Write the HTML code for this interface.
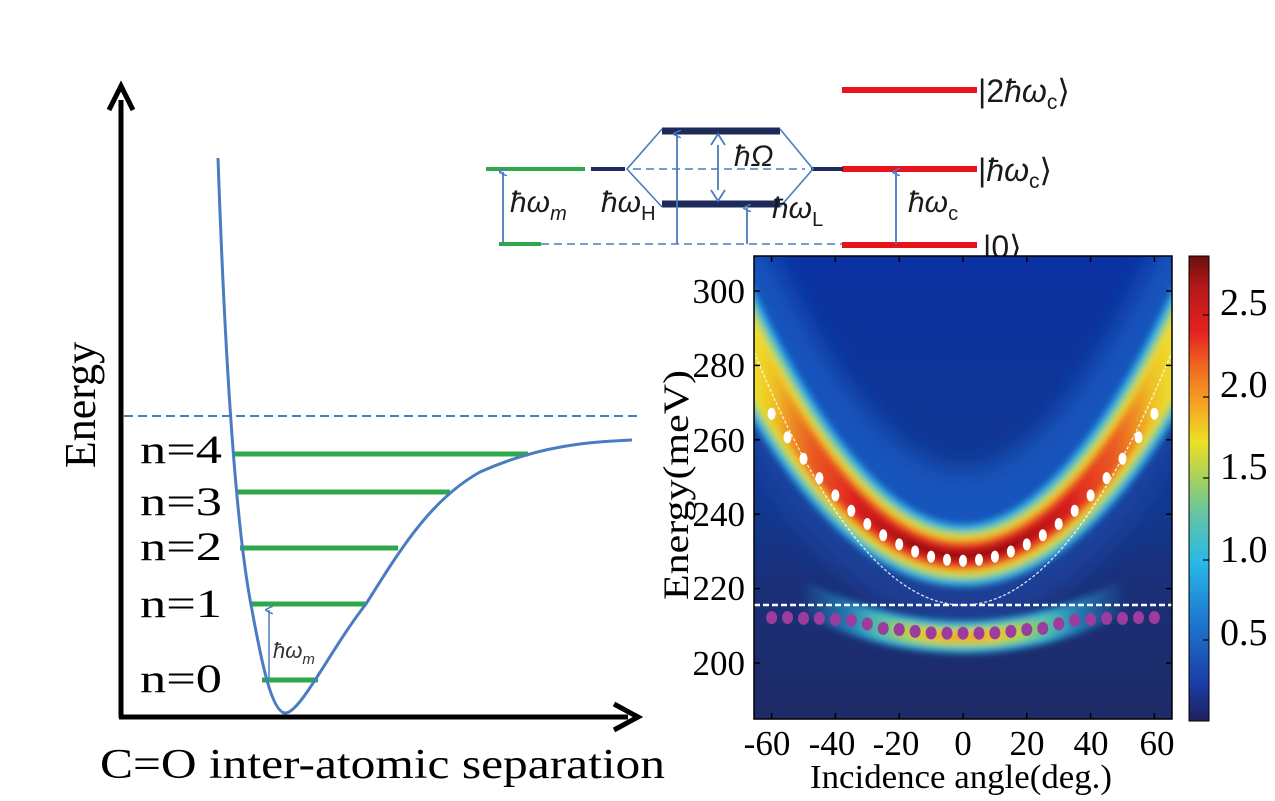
<!DOCTYPE html>
<html><head><meta charset="utf-8"><style>
html,body{margin:0;padding:0;background:#fff;}
svg{display:block;}
</style></head><body>
<svg width="1275" height="801" viewBox="0 0 1275 801" xmlns="http://www.w3.org/2000/svg">
<defs>
<marker id="ah" markerWidth="8" markerHeight="8" refX="4" refY="4" orient="auto" markerUnits="userSpaceOnUse"><path d="M0,8 L4,0 L8,8" fill="none" stroke="#4a7cc0" stroke-width="1.5"/></marker>
<clipPath id="pc"><rect x="754" y="256" width="418" height="463"/></clipPath>
<filter id="bl" x="-20%" y="-20%" width="140%" height="140%"><feGaussianBlur stdDeviation="3.5"/></filter>
<filter id="bl2" x="-20%" y="-20%" width="140%" height="140%"><feGaussianBlur stdDeviation="12"/></filter>
<linearGradient id="bg" x1="0" y1="256" x2="0" y2="719" gradientUnits="userSpaceOnUse">
<stop offset="0" stop-color="#0a32a2"/><stop offset="0.55" stop-color="#12388f"/><stop offset="0.72" stop-color="#1b2f78"/><stop offset="1" stop-color="#1d2b66"/></linearGradient>
<linearGradient id="fadeR" x1="754" y1="0" x2="1172" y2="0" gradientUnits="userSpaceOnUse">
<stop offset="0.05" stop-color="#e02020" stop-opacity="0"/><stop offset="0.25" stop-color="#e02020" stop-opacity="1"/><stop offset="0.75" stop-color="#e02020" stop-opacity="1"/><stop offset="0.95" stop-color="#e02020" stop-opacity="0"/></linearGradient>
<linearGradient id="fadeO" x1="754" y1="0" x2="1172" y2="0" gradientUnits="userSpaceOnUse">
<stop offset="0" stop-color="#f08a20" stop-opacity="0"/><stop offset="0.14" stop-color="#f08a20" stop-opacity="1"/><stop offset="0.86" stop-color="#f08a20" stop-opacity="1"/><stop offset="1" stop-color="#f08a20" stop-opacity="0"/></linearGradient>
<linearGradient id="fadeD" x1="754" y1="0" x2="1172" y2="0" gradientUnits="userSpaceOnUse">
<stop offset="0.22" stop-color="#9a1010" stop-opacity="0"/><stop offset="0.38" stop-color="#9a1010" stop-opacity="1"/><stop offset="0.62" stop-color="#9a1010" stop-opacity="1"/><stop offset="0.78" stop-color="#9a1010" stop-opacity="0"/></linearGradient>
<linearGradient id="lowC" x1="800" y1="0" x2="1126" y2="0" gradientUnits="userSpaceOnUse">
<stop offset="0" stop-color="#26b0e0" stop-opacity="0"/><stop offset="0.25" stop-color="#26b0e0" stop-opacity="1"/><stop offset="0.75" stop-color="#26b0e0" stop-opacity="1"/><stop offset="1" stop-color="#26b0e0" stop-opacity="0"/></linearGradient>
<linearGradient id="lowG" x1="800" y1="0" x2="1126" y2="0" gradientUnits="userSpaceOnUse">
<stop offset="0.15" stop-color="#80d070" stop-opacity="0"/><stop offset="0.33" stop-color="#80d070" stop-opacity="1"/><stop offset="0.67" stop-color="#80d070" stop-opacity="1"/><stop offset="0.85" stop-color="#80d070" stop-opacity="0"/></linearGradient>
<linearGradient id="lowY" x1="800" y1="0" x2="1126" y2="0" gradientUnits="userSpaceOnUse">
<stop offset="0.25" stop-color="#f0d020" stop-opacity="0"/><stop offset="0.4" stop-color="#f0d020" stop-opacity="1"/><stop offset="0.6" stop-color="#f0d020" stop-opacity="1"/><stop offset="0.75" stop-color="#f0d020" stop-opacity="0"/></linearGradient>
<linearGradient id="lowO" x1="800" y1="0" x2="1126" y2="0" gradientUnits="userSpaceOnUse">
<stop offset="0.35" stop-color="#f09a20" stop-opacity="0"/><stop offset="0.45" stop-color="#f09a20" stop-opacity="1"/><stop offset="0.55" stop-color="#f09a20" stop-opacity="1"/><stop offset="0.65" stop-color="#f09a20" stop-opacity="0"/></linearGradient>
<linearGradient id="cb" x1="0" y1="721" x2="0" y2="256" gradientUnits="userSpaceOnUse">
<stop offset="0" stop-color="#1e1f5c"/><stop offset="0.08" stop-color="#1a3da8"/><stop offset="0.22" stop-color="#1e7ad2"/><stop offset="0.34" stop-color="#28b8e6"/><stop offset="0.44" stop-color="#60c4a8"/><stop offset="0.52" stop-color="#a4d060"/><stop offset="0.6" stop-color="#ece024"/><stop offset="0.68" stop-color="#f4a622"/><stop offset="0.76" stop-color="#f06a20"/><stop offset="0.84" stop-color="#e42020"/><stop offset="0.93" stop-color="#b81818"/><stop offset="1" stop-color="#6a1010"/></linearGradient>
</defs>

<!-- LEFT PANEL -->
<line x1="121" y1="718" x2="121" y2="100" stroke="#000" stroke-width="5"/>
<path d="M109,110 L121,86 L133,110" fill="none" stroke="#000" stroke-width="5"/>
<line x1="119" y1="717" x2="628" y2="717" stroke="#000" stroke-width="5"/>
<path d="M614,704 L638,717 L614,730" fill="none" stroke="#000" stroke-width="5"/>
<line x1="124" y1="416" x2="640" y2="416" stroke="#4a7cc0" stroke-width="2" stroke-dasharray="9 5"/>
<g stroke="#2ea84a" stroke-width="5">
<line x1="262" y1="680" x2="318" y2="680"/>
<line x1="250" y1="604" x2="366" y2="604"/>
<line x1="240" y1="548" x2="398" y2="548"/>
<line x1="236" y1="492" x2="450" y2="492"/>
<line x1="234" y1="454" x2="528" y2="454"/>
</g>
<path d="M218,158 C224,330 234,520 252,610 C262,665 272,712 285,713 C300,714 330,650 366,604 C400,550 430,500 480,472 C540,445 590,442 632,440" fill="none" stroke="#4a7cc0" stroke-width="3"/>
<line x1="269" y1="678" x2="269" y2="610" stroke="#4a7cc0" stroke-width="1.5" marker-end="url(#ah)"/>
<text x="273" y="658" font-family="Liberation Sans, sans-serif" font-size="22" font-style="italic" fill="#333">ħω<tspan font-size="15" dy="6">m</tspan></text>
<g font-family="Liberation Serif, serif" font-size="40" fill="#000">
<text x="140" y="463" textLength="82" lengthAdjust="spacingAndGlyphs">n=4</text>
<text x="140" y="515" textLength="82" lengthAdjust="spacingAndGlyphs">n=3</text>
<text x="140" y="560" textLength="82" lengthAdjust="spacingAndGlyphs">n=2</text>
<text x="140" y="617" textLength="82" lengthAdjust="spacingAndGlyphs">n=1</text>
<text x="140" y="692" textLength="82" lengthAdjust="spacingAndGlyphs">n=0</text>
<text x="95" y="405" font-size="44" transform="rotate(-90 95 405)" text-anchor="middle">Energy</text>
<text x="100" y="778" font-size="42" textLength="565" lengthAdjust="spacingAndGlyphs">C=O inter-atomic separation</text>
</g>

<!-- TOP DIAGRAM -->
<g stroke="#e8141c" stroke-width="6">
<line x1="842" y1="90" x2="977" y2="90"/>
<line x1="842" y1="169" x2="977" y2="169"/>
<line x1="842" y1="245" x2="977" y2="245"/>
</g>
<g stroke="#2ea84a" stroke-width="4">
<line x1="486" y1="169" x2="585" y2="169"/>
<line x1="499" y1="244" x2="541" y2="244"/>
</g>
<g stroke="#1c2b5a" stroke-width="4">
<line x1="591" y1="169" x2="625" y2="169"/>
<line x1="811" y1="169" x2="843" y2="169"/>
</g>
<g stroke="#1c2b5a" stroke-width="7">
<line x1="662" y1="131" x2="780" y2="131"/>
<line x1="662" y1="204" x2="780" y2="204"/>
</g>
<g stroke="#4a7cc0" stroke-width="1.6" fill="none">
<line x1="633" y1="169" x2="805" y2="169" stroke-dasharray="8 5"/>
<line x1="541" y1="244" x2="842" y2="244" stroke-dasharray="8 5"/>
<polyline points="662,129 627,169 662,207"/>
<polyline points="780,129 813,169 780,207"/>
</g>
<g stroke="#4a7cc0" stroke-width="1.8">
<line x1="503" y1="244" x2="503" y2="172" marker-end="url(#ah)"/>
<line x1="677" y1="244" x2="677" y2="134" marker-end="url(#ah)"/>
<line x1="747" y1="244" x2="747" y2="208" marker-end="url(#ah)"/>
<line x1="896" y1="244" x2="896" y2="172" marker-end="url(#ah)"/>
<line x1="718" y1="145" x2="718" y2="190"/>
<path d="M711,145 L718,134 L725,145 M711,190 L718,201 L725,190" fill="none"/>
</g>
<g font-family="Liberation Sans, sans-serif" font-size="30" fill="#1a1a1a" font-style="italic">
<text x="510" y="212">ħω<tspan font-size="20" dy="8">m</tspan></text>
<text x="601" y="212">ħω<tspan font-size="20" dy="8" font-style="normal">H</tspan></text>
<text x="734" y="166">ħΩ</text>
<text x="772" y="218">ħω<tspan font-size="20" dy="8" font-style="normal">L</tspan></text>
<text x="908" y="212">ħω<tspan font-size="20" dy="8" font-style="normal">c</tspan></text>
</g>
<g font-family="Liberation Sans, sans-serif" font-size="32" fill="#1a1a1a">
<text x="978" y="102">|2<tspan font-style="italic">ħω</tspan><tspan font-size="21" dy="7">c</tspan><tspan dy="-7">⟩</tspan></text>
<text x="978" y="181">|<tspan font-style="italic">ħω</tspan><tspan font-size="21" dy="7">c</tspan><tspan dy="-7">⟩</tspan></text>
<text x="983" y="258">|0⟩</text>
</g>

<!-- HEATMAP -->
<g clip-path="url(#pc)">
<rect x="740" y="240" width="450" height="500" fill="url(#bg)"/>
<g filter="url(#bl2)" fill="none">
<path d="M723.5,258 Q963,771 1202.5,258" stroke="#1656c0" stroke-width="90" opacity="0.9"/>
<path d="M723.5,340 Q963,853 1202.5,340" stroke="#1a48a8" stroke-width="60" opacity="0.6"/>
</g>
<g filter="url(#bl)" fill="none">
<path d="M723.5,299 Q963,812 1202.5,299" stroke="#2aaee6" stroke-width="62"/>
<path d="M723.5,299 Q963,812 1202.5,299" stroke="#86d070" stroke-width="50"/>
<path d="M723.5,299 Q963,812 1202.5,299" stroke="#eede2a" stroke-width="40"/>
<path d="M723.5,299 Q963,812 1202.5,299" stroke="url(#fadeO)" stroke-width="32"/>
<path d="M723.5,299 Q963,812 1202.5,299" stroke="url(#fadeR)" stroke-width="24"/>
<path d="M723.5,299 Q963,812 1202.5,299" stroke="url(#fadeD)" stroke-width="10"/>
<path d="M800,596 Q963,678 1126,596" stroke="url(#lowC)" stroke-width="32"/>
<path d="M800,596 Q963,678 1126,596" stroke="url(#lowG)" stroke-width="22"/>
<path d="M800,596 Q963,678 1126,596" stroke="url(#lowY)" stroke-width="13"/>
<path d="M800,596 Q963,678 1126,596" stroke="url(#lowO)" stroke-width="6"/>
</g>
<path d="M754,352 Q963,858 1172,352" fill="none" stroke="#fff" stroke-width="1.3" stroke-dasharray="3 2" opacity="0.85"/>
<line x1="754" y1="605" x2="1172" y2="605" stroke="#fff" stroke-width="2.5" stroke-dasharray="6 3"/>
<g fill="#fff">
<ellipse cx="963" cy="560.7" rx="4" ry="6"/>
<ellipse cx="979" cy="559.7" rx="4" ry="6"/><ellipse cx="947" cy="559.7" rx="4" ry="6"/>
<ellipse cx="994.9" cy="556.6" rx="4" ry="6"/><ellipse cx="931.1" cy="556.6" rx="4" ry="6"/>
<ellipse cx="1010.9" cy="551.5" rx="4" ry="6"/><ellipse cx="915.1" cy="551.5" rx="4" ry="6"/>
<ellipse cx="1026.8" cy="544.4" rx="4" ry="6"/><ellipse cx="899.2" cy="544.4" rx="4" ry="6"/>
<ellipse cx="1042.8" cy="535.2" rx="4" ry="6"/><ellipse cx="883.2" cy="535.2" rx="4" ry="6"/>
<ellipse cx="1058.7" cy="524" rx="4" ry="6"/><ellipse cx="867.3" cy="524" rx="4" ry="6"/>
<ellipse cx="1074.7" cy="510.7" rx="4" ry="6"/><ellipse cx="851.3" cy="510.7" rx="4" ry="6"/>
<ellipse cx="1090.6" cy="495.4" rx="4" ry="6"/><ellipse cx="835.4" cy="495.4" rx="4" ry="6"/>
<ellipse cx="1106.6" cy="478.1" rx="4" ry="6"/><ellipse cx="819.4" cy="478.1" rx="4" ry="6"/>
<ellipse cx="1122.5" cy="458.7" rx="4" ry="6"/><ellipse cx="803.5" cy="458.7" rx="4" ry="6"/>
<ellipse cx="1138.5" cy="437.3" rx="4" ry="6"/><ellipse cx="787.5" cy="437.3" rx="4" ry="6"/>
<ellipse cx="1154.4" cy="413.8" rx="4" ry="6"/><ellipse cx="771.6" cy="413.8" rx="4" ry="6"/>
</g>
<g fill="#9b3c9e">
<ellipse cx="963" cy="633.2" rx="5.5" ry="6.5"/>
<ellipse cx="979" cy="633.2" rx="5.5" ry="6.5"/><ellipse cx="947" cy="633.2" rx="5.5" ry="6.5"/>
<ellipse cx="994.9" cy="632.9" rx="5.5" ry="6.5"/><ellipse cx="931.1" cy="632.9" rx="5.5" ry="6.5"/>
<ellipse cx="1010.9" cy="631.4" rx="5.5" ry="6.5"/><ellipse cx="915.1" cy="631.4" rx="5.5" ry="6.5"/>
<ellipse cx="1026.8" cy="629.5" rx="5.5" ry="6.5"/><ellipse cx="899.2" cy="629.5" rx="5.5" ry="6.5"/>
<ellipse cx="1042.8" cy="628.4" rx="5.5" ry="6.5"/><ellipse cx="883.2" cy="628.4" rx="5.5" ry="6.5"/>
<ellipse cx="1058.7" cy="623.9" rx="5.5" ry="6.5"/><ellipse cx="867.3" cy="623.9" rx="5.5" ry="6.5"/>
<ellipse cx="1074.7" cy="620.2" rx="5.5" ry="6.5"/><ellipse cx="851.3" cy="620.2" rx="5.5" ry="6.5"/>
<ellipse cx="1090.6" cy="619.5" rx="5.5" ry="6.5"/><ellipse cx="835.4" cy="619.5" rx="5.5" ry="6.5"/>
<ellipse cx="1106.6" cy="618.4" rx="5.5" ry="6.5"/><ellipse cx="819.4" cy="618.4" rx="5.5" ry="6.5"/>
<ellipse cx="1122.5" cy="618.4" rx="5.5" ry="6.5"/><ellipse cx="803.5" cy="618.4" rx="5.5" ry="6.5"/>
<ellipse cx="1138.5" cy="617.6" rx="5.5" ry="6.5"/><ellipse cx="787.5" cy="617.6" rx="5.5" ry="6.5"/>
<ellipse cx="1154.4" cy="617.6" rx="5.5" ry="6.5"/><ellipse cx="771.6" cy="617.6" rx="5.5" ry="6.5"/>
</g>
</g>
<rect x="754" y="256" width="418" height="463" fill="none" stroke="#000" stroke-width="1.5"/>
<g stroke="#000" stroke-width="1.5">
<line x1="771.6" y1="719" x2="771.6" y2="713"/><line x1="835.4" y1="719" x2="835.4" y2="713"/><line x1="899.2" y1="719" x2="899.2" y2="713"/><line x1="963" y1="719" x2="963" y2="713"/><line x1="1026.8" y1="719" x2="1026.8" y2="713"/><line x1="1090.6" y1="719" x2="1090.6" y2="713"/><line x1="1154.4" y1="719" x2="1154.4" y2="713"/>
<line x1="771.6" y1="256" x2="771.6" y2="262"/><line x1="835.4" y1="256" x2="835.4" y2="262"/><line x1="899.2" y1="256" x2="899.2" y2="262"/><line x1="963" y1="256" x2="963" y2="262"/><line x1="1026.8" y1="256" x2="1026.8" y2="262"/><line x1="1090.6" y1="256" x2="1090.6" y2="262"/><line x1="1154.4" y1="256" x2="1154.4" y2="262"/>
<line x1="754" y1="291" x2="760" y2="291"/><line x1="754" y1="365.4" x2="760" y2="365.4"/><line x1="754" y1="439.8" x2="760" y2="439.8"/><line x1="754" y1="514.2" x2="760" y2="514.2"/><line x1="754" y1="588.6" x2="760" y2="588.6"/><line x1="754" y1="663" x2="760" y2="663"/>
<line x1="1172" y1="291" x2="1166" y2="291"/><line x1="1172" y1="365.4" x2="1166" y2="365.4"/><line x1="1172" y1="439.8" x2="1166" y2="439.8"/><line x1="1172" y1="514.2" x2="1166" y2="514.2"/><line x1="1172" y1="588.6" x2="1166" y2="588.6"/><line x1="1172" y1="663" x2="1166" y2="663"/>
</g>
<g font-family="Liberation Serif, serif" font-size="35" fill="#000">
<g text-anchor="end">
<text x="745" y="303">300</text><text x="745" y="377">280</text><text x="745" y="452">260</text><text x="745" y="526">240</text><text x="745" y="600">220</text><text x="745" y="675">200</text>
</g>
<g text-anchor="middle">
<text x="767" y="755">-60</text><text x="832" y="755">-40</text><text x="896" y="755">-20</text><text x="963" y="755">0</text><text x="1027" y="755">20</text><text x="1091" y="755">40</text><text x="1157" y="755">60</text>
</g>
<text x="810" y="788" font-size="34" textLength="302" lengthAdjust="spacingAndGlyphs">Incidence angle(deg.)</text>
<text x="688" y="485" font-size="36" text-anchor="middle" textLength="230" lengthAdjust="spacingAndGlyphs" transform="rotate(-90 688 485)">Energy(meV)</text>
<g font-size="38">
<text x="1220" y="315">2.5</text><text x="1220" y="397">2.0</text><text x="1220" y="479">1.5</text><text x="1220" y="562">1.0</text><text x="1220" y="645">0.5</text>
</g>
</g>
<rect x="1189" y="256" width="20" height="465" fill="url(#cb)" stroke="#000" stroke-width="1"/>
<g stroke="#000" stroke-width="1.2">
<line x1="1203" y1="315" x2="1209" y2="315"/><line x1="1203" y1="397" x2="1209" y2="397"/><line x1="1203" y1="478" x2="1209" y2="478"/><line x1="1203" y1="560" x2="1209" y2="560"/><line x1="1203" y1="640" x2="1209" y2="640"/>
</g>
</svg>
</body></html>
